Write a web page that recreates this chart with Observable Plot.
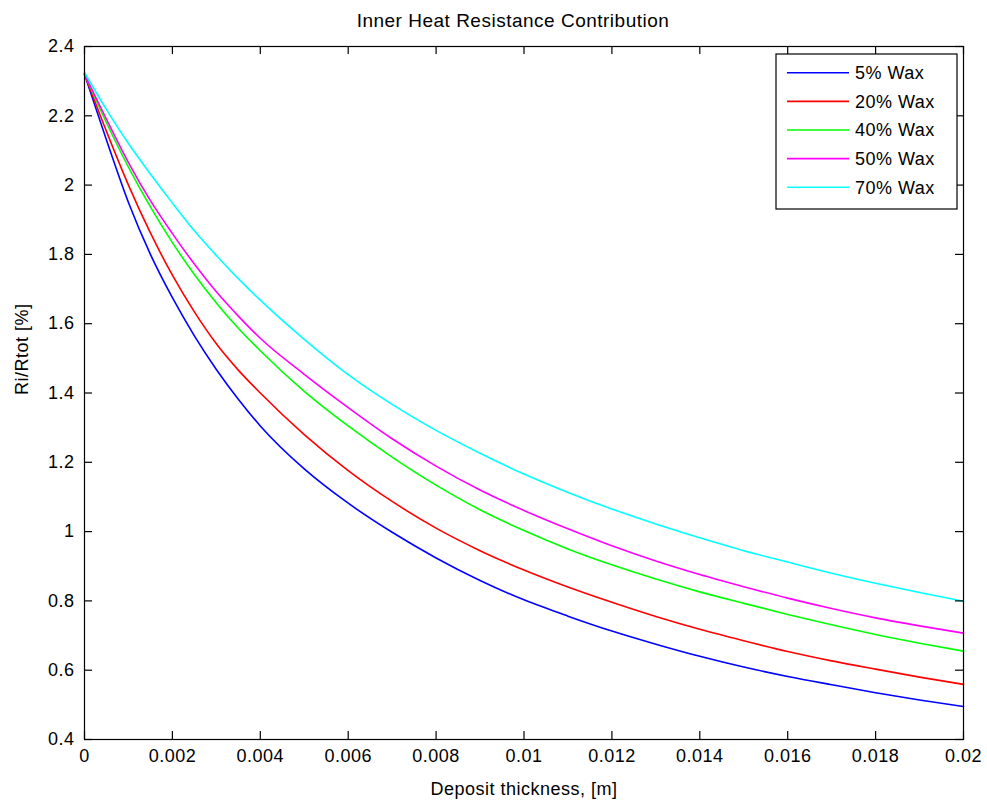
<!DOCTYPE html>
<html>
<head>
<meta charset="utf-8">
<script src="https://cdn.jsdelivr.net/npm/d3@7"></script>
<script src="https://cdn.jsdelivr.net/npm/@observablehq/plot@0.6"></script>
<style>
  html, body { margin: 0; padding: 0; background: white; }
  #chart { width: 987px; height: 803px; }
</style>
</head>
<body>
<div id="chart"></div>
<script>
// ---- data ----
const titleText = "Inner Heat Resistance Contribution";
const xLabel = "Deposit thickness, [m]";
const yLabel = "Ri/Rtot [%]";

const xs = [0, 0.0005, 0.001, 0.0015, 0.002, 0.0025, 0.003, 0.0035, 0.004,
  0.005, 0.006, 0.007, 0.008, 0.009, 0.010, 0.011, 0.012, 0.013, 0.014,
  0.015, 0.016, 0.017, 0.018, 0.019, 0.020];

const wax5 = [2.32, 2.13, 1.95, 1.80, 1.675, 1.565, 1.468, 1.382, 1.305,
  1.181, 1.082, 0.998, 0.924, 0.859, 0.803, 0.756, 0.713, 0.675, 0.640,
  0.609, 0.582, 0.558, 0.535, 0.514, 0.495];
const wax20 = [2.32, 2.155, 2.0, 1.862, 1.740, 1.634, 1.542, 1.466, 1.40,
  1.280, 1.176, 1.087, 1.010, 0.945, 0.889, 0.840, 0.796, 0.755, 0.718,
  0.685, 0.654, 0.627, 0.603, 0.580, 0.559];
const wax40 = [2.32, 2.18, 2.052, 1.937, 1.834, 1.742, 1.66, 1.587, 1.522,
  1.405, 1.305, 1.215, 1.134, 1.063, 1.003, 0.950, 0.904, 0.863, 0.826,
  0.793, 0.761, 0.731, 0.703, 0.678, 0.655];
const wax50 = [2.32, 2.19, 2.065, 1.955, 1.86, 1.772, 1.692, 1.622, 1.558,
  1.454, 1.358, 1.268, 1.189, 1.120, 1.061, 1.008, 0.959, 0.915, 0.876,
  0.841, 0.808, 0.778, 0.751, 0.728, 0.707];
const wax70 = [2.325, 2.218, 2.12, 2.032, 1.948, 1.868, 1.797, 1.73, 1.668,
  1.555, 1.453, 1.367, 1.292, 1.226, 1.166, 1.113, 1.065, 1.022, 0.982,
  0.945, 0.912, 0.880, 0.851, 0.824, 0.799];

const seriesNames = ["5% Wax", "20% Wax", "40% Wax", "50% Wax", "70% Wax"];
const seriesValues = [wax5, wax20, wax40, wax50, wax70];
const seriesColors = ["#0000ff", "#ff0000", "#00ff00", "#ff00ff", "#00ffff"];

const xTicks = [0, 0.002, 0.004, 0.006, 0.008, 0.01, 0.012, 0.014, 0.016, 0.018, 0.02];
const xTickLabels = ["0", "0.002", "0.004", "0.006", "0.008", "0.01", "0.012", "0.014", "0.016", "0.018", "0.02"];
const yTicks = [0.4, 0.6, 0.8, 1.0, 1.2, 1.4, 1.6, 1.8, 2.0, 2.2, 2.4];
const yTickLabels = ["0.4", "0.6", "0.8", "1", "1.2", "1.4", "1.6", "1.8", "2", "2.2", "2.4"];

// ---- table built from arrays ----
const rows = [];
seriesNames.forEach((name, s) => {
  xs.forEach((x, i) => rows.push({series: name, x, y: seriesValues[s][i]}));
});

const W = 987, H = 803, mL = 84, mR = 24, mT = 46, mB = 64;
const pw = W - mL - mR, ph = H - mT - mB;
const tickLen = 8;

const plot = Plot.plot({
  width: W, height: H,
  marginLeft: mL, marginRight: mR, marginTop: mT, marginBottom: mB,
  style: "font-family: 'Liberation Sans', Arial, sans-serif; font-size: 18px; letter-spacing: 0.5px; background: white; color: black; overflow: visible;",
  x: {domain: [0, 0.02]},
  y: {domain: [0.4, 2.4]},
  color: {domain: seriesNames, range: seriesColors},
  marks: [
    Plot.line(rows, {x: "x", y: "y", z: "series", stroke: "series", strokeWidth: 1.6, curve: "monotone-x"}),
    Plot.frame({stroke: "black", strokeWidth: 1.2}),
    // inward ticks on all four sides
    Plot.tickX(xTicks, {x: d => d, insetTop: ph - tickLen, stroke: "black", strokeWidth: 1.2}),
    Plot.tickX(xTicks, {x: d => d, insetBottom: ph - tickLen, stroke: "black", strokeWidth: 1.2}),
    Plot.tickY(yTicks, {y: d => d, insetRight: pw - tickLen, stroke: "black", strokeWidth: 1.2}),
    Plot.tickY(yTicks, {y: d => d, insetLeft: pw - tickLen, stroke: "black", strokeWidth: 1.2}),
    // tick labels
    Plot.axisX(xTicks, {anchor: "bottom", tickSize: 0, tickPadding: 10, tickFormat: (d, i) => xTickLabels[i], fontSize: 18, label: null}),
    Plot.axisY(yTicks, {anchor: "left", tickSize: 0, tickPadding: 10, tickFormat: (d, i) => yTickLabels[i], fontSize: 18, label: null}),
    // title & axis labels
    Plot.text([titleText], {frameAnchor: "top", dy: -26, dx: -11, lineAnchor: "middle", fontSize: 19}),
    Plot.text([xLabel], {frameAnchor: "bottom", dy: 50, lineAnchor: "middle", fontSize: 18}),
    Plot.text([yLabel], {frameAnchor: "left", dx: -62, dy: 2, rotate: -90, lineAnchor: "middle", fontSize: 18})
  ]
});

document.getElementById("chart").appendChild(plot);

// ---- legend (box in top-right of axes) ----
const svg = d3.select(plot);
const lg = svg.append("g").attr("class", "legend");
const boxX = 776, boxY = 54, boxW = 181, boxH = 155;
lg.append("rect").attr("x", boxX).attr("y", boxY).attr("width", boxW).attr("height", boxH)
  .attr("fill", "white").attr("stroke", "black").attr("stroke-width", 1.2);
seriesNames.forEach((name, i) => {
  const cy = 72.7 + i * 28.65;
  lg.append("line").attr("x1", 787).attr("x2", 849).attr("y1", cy).attr("y2", cy)
    .attr("stroke", seriesColors[i]).attr("stroke-width", 1.6);
  lg.append("text").attr("x", 855).attr("y", cy).attr("dy", "0.35em")
    .attr("text-anchor", "start").attr("font-size", 18).attr("fill", "black").text(name);
});
</script>
</body>
</html>
